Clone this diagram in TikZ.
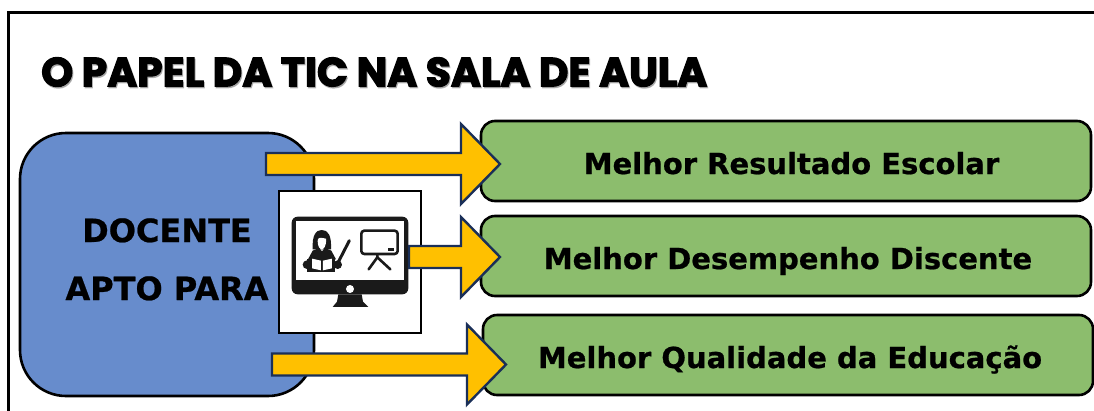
\documentclass[tikz,border=0pt]{standalone}
\usepackage{fontspec}
\setmainfont{DejaVu Sans}
\newfontfamily\titlefont[FakeBold=3]{Poppins Bold}
\newfontfamily\labelfont[FakeBold=0.7]{DejaVu Sans Bold}
\definecolor{bluebox}{HTML}{678CCC}
\definecolor{greenbox}{HTML}{8CBD6D}
\definecolor{arrowfill}{HTML}{FFC000}
\definecolor{arrowline}{HTML}{1A2F58}
\definecolor{iconblack}{HTML}{1A1A1A}
\tikzset{
  goalbox/.style={draw=black,line width=2.6pt,fill=greenbox,rounded corners=14pt,minimum width=610pt,minimum height=80pt,inner sep=0pt},
  goallabel/.style={inner sep=0pt,anchor=base,font=\labelfont\fontsize{29}{34}\selectfont},
  docbox/.style={draw=black,line width=2.6pt,fill=bluebox,rounded corners=46pt,minimum width=294pt,minimum height=263pt,inner sep=0pt},
  doclabel/.style={inner sep=0pt,anchor=base,font=\labelfont\fontsize{32}{36}\selectfont},
  picbox/.style={draw=black,line width=1.6pt,fill=white,minimum width=142pt,minimum height=142pt,inner sep=0pt},
  blockarrow/.style={draw=arrowline,line width=2.4pt,fill=arrowfill,line join=miter,miter limit=10},
  icon/.style={fill=iconblack,draw=none},
  iconline/.style={draw=iconblack,line cap=round,line join=round}
}
\newcommand{\blockarrowat}[4]{% tail x, head x, tip x, y
  \path[blockarrow] (#1,#4-11) -- (#2,#4-11) -- (#2,#4-40) -- (#3,#4) -- (#2,#4+40) -- (#2,#4+11) -- (#1,#4+11) -- cycle;
}
\begin{document}
\begin{tikzpicture}[x=1pt,y=-1pt]
\useasboundingbox (0,0) rectangle (1094,410);
\clip (0,0) rectangle (1094,410);
\fill[white] (0,0) rectangle (1094,410);
\draw[black,line width=2.2pt] (8.5,412) -- (8.5,12.5) -- (1096,12.5);
% title
\node (titleshadow) [anchor=west,inner sep=0pt,text=black!45,opacity=.6,font=\titlefont\fontsize{40.7}{44}\selectfont] at (42,73.5) {O PAPEL DA TIC NA SALA DE AULA};
\node (title) [anchor=west,inner sep=0pt,font=\titlefont\fontsize{40.7}{44}\selectfont] at (41,72) {O PAPEL DA TIC NA SALA DE AULA};
% main boxes
\node (docente) [docbox] at (167,264.5) {};
\node (pic) [picbox] at (350,262) {};
\node (g1) [goalbox] at (786,161) {};
\node (g2) [goalbox] at (786,256) {};
\node (g3) [goalbox] at (788,355) {};
\node (t1) [goallabel] at (791.5,174) {Melhor Resultado Escolar};
\node (t2) [goallabel] at (788,269) {Melhor Desempenho Discente};
\node (t3) [goallabel] at (790,368) {Melhor Qualidade da Educação};
\node (d1) [doclabel] at (167,242) {DOCENTE};
\node (d2) [doclabel] at (167,300) {APTO PARA};
% icon (zoom coordinates)
\begin{scope}[shift={(270,180)},x=0.3333pt,y=-0.3333pt]
  \fill[icon,rounded corners=6pt] (65,110) rectangle (415,343);
  \fill[white] (78,122) rectangle (403,300);
  \fill[white] (240,327) circle (12);
  \fill[icon] (205,343) -- (275,343) -- (279,365) -- (295,381) -- (188,381) -- (201,365) -- cycle;
  % teacher
  \fill[icon] (128,208) .. controls (126,165) and (138,150) .. (155,150) .. controls (174,150) and (185,165) .. (183,208) -- cycle;
  \fill[white] (143,183) .. controls (143,172) and (150,172) .. (168,176) .. controls (170,200) and (160,208) .. (155,208) .. controls (150,208) and (143,200) .. (143,183) -- cycle;
  \fill[icon] (114,238) -- (128,212) -- (147,204) -- (156,214) -- (165,204) -- (184,212) -- (198,238) -- cycle;
  \fill[icon] (112,236) rectangle (196,276);
  \fill[white] (126,236) -- (153,242) -- (153,271) -- (126,265) -- cycle;
  \fill[white] (159,242) -- (186,236) -- (186,265) -- (159,271) -- cycle;
  \fill[icon] (111,254) circle (13);
  \fill[icon] (203,254) circle (13);
  \draw[iconline,line width=3pt] (203,250) -- (238,182);
  % board
  \draw[iconline,line width=2.6pt,rounded corners=3pt] (274,152) rectangle (383,222);
  \fill[icon] (353,205) rectangle (372,213);
  \draw[iconline,line width=2.6pt] (322,224) -- (322,232) -- (296,268);
  \draw[iconline,line width=2.6pt] (322,232) -- (361,268);
\end{scope}
% arrows
\blockarrowat{266}{461}{500}{164}
\blockarrowat{409}{461}{500}{257}
\blockarrowat{272}{467}{506}{364.5}
\end{tikzpicture}
\end{document}
